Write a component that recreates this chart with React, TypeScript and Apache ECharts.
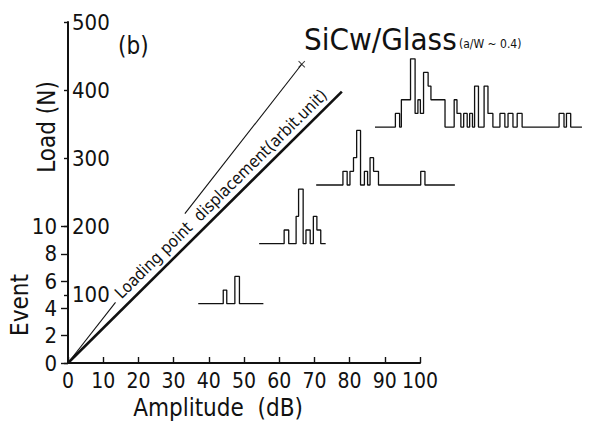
import React, { useEffect, useRef } from "react";
import * as echarts from "echarts";

// ---- Data ----
const amplitudeRange = [0, 100]; // dB, labelled axis
const loadRange = [0, 500]; // N
const eventRange = [0, 10];

// Load vs. loading-point displacement lines (x in dB-axis units, y in N)
const loadLineThick = [
  [0, 0],
  [77.8, 398],
];
const loadLineThinLower = [
  [0, 0],
  [13.5, 89],
];
const loadLineThinUpper = [
  [33.2, 219],
  [66.4, 438],
];

// N of load per AE event on the stacked histograms (Event 10 = Load 200)
const EVENT_TO_LOAD = 20;

// AE amplitude histograms, stacked at increasing load levels
const hist1Base = 87;
const hist1Edges = [37.0, 44.1, 45.1, 47.4, 48.7, 55.5];
const hist1Counts = [0, 1, 0, 2, 0];

const hist2Base = 175;
const hist2Edges = [54.3, 61.4, 62.7, 64.8, 65.5, 66.8, 67.6, 68.8, 69.7, 70.7, 71.8, 73.2];
const hist2Counts = [0, 1, 0, 2, 4, 0, 1, 0, 2, 1, 0];

const hist3Base = 261;
const hist3Edges = [70.5, 78.1, 79.3, 80.1, 81.1, 82.0, 83.1, 84.2, 85.1, 85.8, 86.8, 88.2, 100.2, 101.4, 109.9];
const hist3Counts = [0, 1, 0, 1, 2, 4, 0, 1, 0, 2, 1, 0, 1, 0];

const hist4Base = 346;
const hist4Edges = [
  87.2, 93.0, 94.2, 94.7, 97.3, 98.6, 99.4, 100.1, 101.0, 102.3, 103.1, 107.1, 109.7, 110.5, 111.6,
  112.4, 113.4, 114.1, 114.9, 115.5, 116.6, 118.2, 119.3, 120.7, 122.7, 124.1, 125.0, 126.4, 127.6,
  129.0, 139.5, 140.9, 141.6, 142.8, 146.0,
];
const hist4Counts = [
  0, 1, 0, 2, 5, 1, 2, 1, 4, 3, 2, 0, 2, 1, 0, 1, 0, 1, 0, 3, 0, 3, 1, 0, 1, 0, 1, 0, 1, 0, 1, 0, 1, 0,
];

const histograms = [
  { base: hist1Base, edges: hist1Edges, counts: hist1Counts },
  { base: hist2Base, edges: hist2Edges, counts: hist2Counts },
  { base: hist3Base, edges: hist3Edges, counts: hist3Counts },
  { base: hist4Base, edges: hist4Edges, counts: hist4Counts },
];

const FONT = '"Liberation Sans Narrow", "DejaVu Sans Condensed", "Noto Sans", sans-serif';
const INK = "#111";

function stepPoints(base: number, edges: number[], counts: number[]) {
  const pts: number[][] = [];
  for (let i = 0; i < counts.length; i++) {
    const y = base + counts[i] * EVENT_TO_LOAD;
    pts.push([edges[i], y], [edges[i + 1], y]);
  }
  return pts;
}

export default function App() {
  const ref = useRef<HTMLDivElement>(null);

  useEffect(() => {
    if (!ref.current) return;
    const chart = echarts.init(ref.current, null, { renderer: "svg" });

    const histSeries = histograms.map((h, i) => ({
      name: "hist" + (i + 1),
      type: "line",
      xAxisIndex: 1,
      yAxisIndex: 1,
      data: stepPoints(h.base, h.edges, h.counts),
      symbol: "none",
      silent: true,
      clip: false,
      lineStyle: { color: INK, width: 1.3 },
    }));

    const txt = (
      x: number,
      y: number,
      text: string,
      size: number,
      align = "center",
      rotation = 0
    ) => ({
      type: "text",
      x,
      y,
      rotation,
      style: {
        text,
        font: `${size}px ${FONT}`,
        fill: INK,
        align,
        verticalAlign: "middle",
        textAlign: align,
        textVerticalAlign: "middle",
      },
    });

    const option: any = {
      animation: false,
      backgroundColor: "#fff",
      grid: [
        { left: 68, top: 22, width: 352, height: 341 },
        { left: 68, top: 22, width: 521, height: 341 },
        { left: 68, top: 363 - 136.4, width: 352, height: 136.4 },
      ],
      xAxis: [
        {
          type: "value",
          gridIndex: 0,
          min: amplitudeRange[0],
          max: amplitudeRange[1],
          interval: 10,
          axisLine: { lineStyle: { color: INK, width: 2 } },
          axisTick: { inside: true, length: 6, lineStyle: { color: INK, width: 1.4 } },
          axisLabel: { color: INK, fontSize: 21, fontFamily: FONT, margin: 7 },
          splitLine: { show: false },
        },
        { type: "value", gridIndex: 1, min: 0, max: 148, show: false },
        { type: "value", gridIndex: 2, min: 0, max: 100, show: false },
      ],
      yAxis: [
        {
          type: "value",
          gridIndex: 0,
          min: loadRange[0],
          max: loadRange[1],
          interval: 100,
          axisLine: { show: true, lineStyle: { color: INK, width: 2 } },
          axisTick: { show: true, inside: false, length: 4, lineStyle: { color: INK, width: 1.4 } },
          axisLabel: {
            inside: true,
            color: INK,
            fontSize: 22,
            fontFamily: FONT,
            margin: 4,
            formatter: (v: number) => (v === 0 ? "" : String(v)),
          },
          splitLine: { show: false },
        },
        { type: "value", gridIndex: 1, min: 0, max: 500, show: false },
        {
          type: "value",
          gridIndex: 2,
          min: eventRange[0],
          max: eventRange[1],
          interval: 2,
          axisLine: { show: true, lineStyle: { color: INK, width: 2 } },
          axisTick: { show: true, inside: false, length: 7, lineStyle: { color: INK, width: 1.4 } },
          axisLabel: { color: INK, fontSize: 22, fontFamily: FONT, margin: 11 },
          splitLine: { show: false },
        },
      ],
      series: [
        {
          name: "thick",
          type: "line",
          xAxisIndex: 0,
          yAxisIndex: 0,
          data: loadLineThick,
          symbol: "none",
          silent: true,
          lineStyle: { color: INK, width: 2.6 },
        },
        {
          name: "thinLower",
          type: "line",
          xAxisIndex: 0,
          yAxisIndex: 0,
          data: loadLineThinLower,
          symbol: "none",
          silent: true,
          lineStyle: { color: INK, width: 1.1 },
        },
        {
          name: "thinUpper",
          type: "line",
          xAxisIndex: 0,
          yAxisIndex: 0,
          data: loadLineThinUpper,
          symbol: "none",
          silent: true,
          lineStyle: { color: INK, width: 1.1 },
        },
        {
          name: "end",
          type: "scatter",
          xAxisIndex: 0,
          yAxisIndex: 0,
          data: [loadLineThinUpper[1]],
          symbol:
            "path://M0,1 L1,0 L5,4 L9,0 L10,1 L6,5 L10,9 L9,10 L5,6 L1,10 L0,9 L4,5 Z",
          symbolSize: 7,
          itemStyle: { color: INK },
          silent: true,
        },
        ...histSeries,
      ],
      graphic: [
        txt(118, 46, "(b)", 24, "left"),
        txt(304, 39, "SiCw/Glass", 31, "left"),
        txt(459, 44, "(a/W ~ 0.4)", 12, "left"),
        txt(221, 194, "Loading point  displacement(arbit.unit)", 16.5, "center", 0.777),
        txt(218, 408, "Amplitude  (dB)", 24),
        txt(47, 127, "Load (N)", 24, "center", Math.PI / 2),
        txt(20, 305, "Event", 24, "center", Math.PI / 2),
      ],
    };

    chart.setOption(option);
    return () => chart.dispose();
  }, []);

  return (
    <div
      ref={ref}
      style={{ position: "fixed", left: 0, top: 0, width: 591, height: 426, background: "#fff" }}
    />
  );
}
